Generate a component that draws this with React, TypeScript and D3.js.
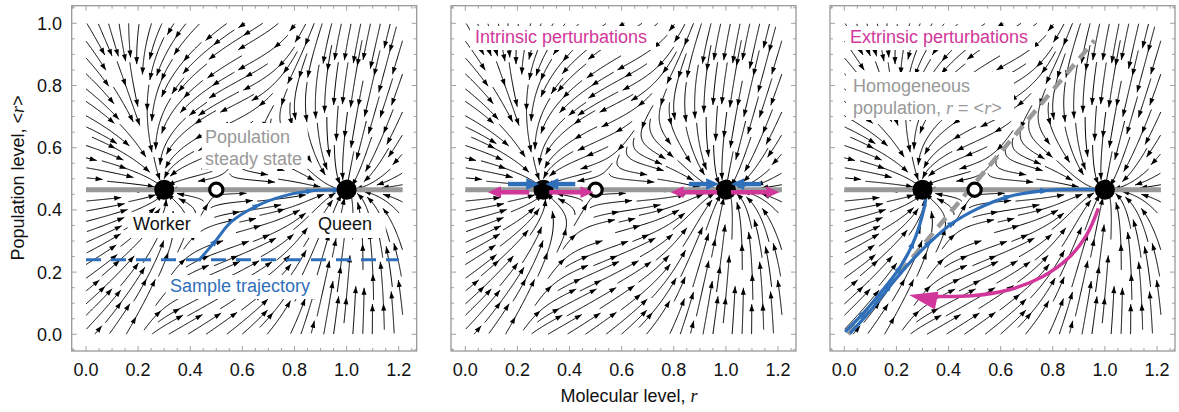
import { useMemo } from 'react';
import * as d3 from 'd3';

type P = [number, number];

// ---- values ----
const popSteady = 0.465;          // population steady state <r>
const workerR = 0.3;
const queenR = 1.0;
const unstableR = 0.5;
const xTicks = [0, 0.2, 0.4, 0.6, 0.8, 1.0, 1.2];
const yTicks = [0, 0.2, 0.4, 0.6, 0.8, 1.0];

const sampleLevel = 0.24;
const sampleTrajectory: P[] = [
  [0.432, 0.237], [0.495, 0.298], [0.558, 0.362], [0.656, 0.413],
  [0.76, 0.445], [0.861, 0.461], [0.962, 0.464], [1.0, 0.465],
];
const sampleArrowAt = [1, 3, 5, 6];

// intrinsic perturbations: [from, to] along r
const pullBack: P[] = [[0.164, 0.284], [0.422, 0.307], [0.858, 0.974], [1.136, 1.02]];
const pushOut: P[] = [[0.245, 0.087], [0.322, 0.492], [0.966, 0.788], [1.02, 1.205]];

const homogeneousLine: P[] = [[0.015, 0.0], [0.96, 0.945]];
const toWorker: P[] = [
  [0.003, 0.008], [0.073, 0.068], [0.142, 0.137], [0.211, 0.212], [0.262, 0.29],
  [0.298, 0.378], [0.312, 0.44], [0.3, 0.465],
];
const toWorkerArrowAt = [1, 3, 4];
const toQueen: P[] = [
  [0.022, 0.003], [0.097, 0.073], [0.173, 0.153], [0.249, 0.228], [0.325, 0.293],
  [0.414, 0.357], [0.514, 0.405], [0.628, 0.442], [0.767, 0.462], [0.918, 0.466], [1.0, 0.465],
];
const toQueenArrowAt = [2, 4, 5, 7, 8];
// extrinsic kick: curve from near the queen back down-left; last point is the arrow tip
const extrinsicPath: P[] = [
  [0.975, 0.405], [0.93, 0.32], [0.86, 0.245], [0.76, 0.185], [0.64, 0.145], [0.49, 0.124], [0.33, 0.122], [0.249, 0.126],
];

// ---- model used for the stream field ----
// r' = a + b r^n / (K^n + r^n) - r, threshold K and basal a shift with <r>
const hillN = 12, hillB = 0.701, baseA = 0.2994, baseK = 0.54;
function field(x: number, y: number): P {
  const a = baseA - 0.25 * (y - popSteady);
  const K = Math.max(0.05, baseK + 0.635 * (y - popSteady));
  const xn = Math.pow(Math.max(x, 0), hillN);
  const H = xn / (Math.pow(K, hillN) + xn);
  const fx = a + hillB * H - x;
  const q = Math.pow(Math.max(x, 0) / 0.84, 14);
  const c = 0.62 - 0.2 * Math.tanh(4 * (y - popSteady));
  const fy = (popSteady - y) * (c + 1.6 * q / (1 + q));
  return [fx, fy];
}

const X_MAX = 1.215;
const SX = 260.6, SY = 311;

function computeStreams(): P[][] {
  const W = X_MAX * SX, H = SY;
  const dsep = 9.5, dtest = 4.2, maxHalf = 34;
  const nc = Math.ceil(W / dsep) + 1, nr = Math.ceil(H / dsep) + 1;
  const buckets: { u: number; v: number; id: number }[][] = Array.from({ length: nc * nr }, () => []);
  const add = (u: number, v: number, id: number) => {
    const i = Math.min(nc - 1, Math.floor(u / dsep)), j = Math.min(nr - 1, Math.floor(v / dsep));
    buckets[j * nc + i].push({ u, v, id });
  };
  const tooClose = (u: number, v: number, d: number, id: number) => {
    const i0 = Math.floor(u / dsep), j0 = Math.floor(v / dsep);
    for (let j = j0 - 1; j <= j0 + 1; j++) for (let i = i0 - 1; i <= i0 + 1; i++) {
      if (i < 0 || j < 0 || i >= nc || j >= nr) continue;
      for (const p of buckets[j * nc + i]) {
        if (p.id !== id && (p.u - u) ** 2 + (p.v - v) ** 2 < d * d) return true;
      }
    }
    return false;
  };
  const dir = (u: number, v: number): P | null => {
    const [fx, fy] = field(u / SX, v / SY);
    const du = fx * SX, dv = fy * SY;
    const m = Math.hypot(du, dv);
    return m < 1e-6 ? null : [du / m, dv / m];
  };
  const trace = (u0: number, v0: number, sgn: number, id: number) => {
    const pts: P[] = [];
    let u = u0, v = v0;
    for (let s = 0; s < maxHalf; s++) {
      const d1 = dir(u, v); if (!d1) break;
      const d2 = dir(u + 0.5 * sgn * d1[0], v + 0.5 * sgn * d1[1]); if (!d2) break;
      if (d1[0] * d2[0] + d1[1] * d2[1] < 0.5) break;
      const un = u + sgn * d2[0], vn = v + sgn * d2[1];
      if (un < 0 || un > W || vn < 0 || vn > H) break;
      if (tooClose(un, vn, dtest, id)) break;
      u = un; v = vn;
      pts.push([u, v]);
    }
    return pts;
  };
  const lines: P[][] = [];
  const tryLine = (u: number, v: number): P[] | null => {
    if (u < 0 || u > W || v < 0 || v > H) return null;
    if (tooClose(u, v, dsep, -1)) return null;
    const id = lines.length;
    const fw = trace(u, v, 1, id);
    const bw = trace(u, v, -1, id);
    const pts: P[] = [...bw.reverse(), [u, v], ...fw];
    if (pts.length < 7) return null;
    pts.forEach((p) => add(p[0], p[1], id));
    lines.push(pts);
    return pts;
  };
  const grow = (first: P[]) => {
    const queue = [first];
    while (queue.length) {
      const ln = queue.shift()!;
      for (let k = 1; k < ln.length - 1; k += 3) {
        const dx = ln[k + 1][0] - ln[k - 1][0], dy = ln[k + 1][1] - ln[k - 1][1];
        const m = Math.hypot(dx, dy) || 1;
        for (const s of [1, -1]) {
          const nl = tryLine(ln[k][0] - (s * dy / m) * dsep, ln[k][1] + (s * dx / m) * dsep);
          if (nl) queue.push(nl);
        }
      }
    }
  };
  for (let v = H - 2; v > 0; v -= dsep / 2) {
    for (let u = 2; u < W; u += dsep / 2) {
      const ln = tryLine(u, v);
      if (ln) grow(ln);
    }
  }
  return lines.map((l) => l.map(([u, v]) => [u / SX, v / SY] as P));
}

function head(tip: P, from: P, len: number, hw: number) {
  const dx = tip[0] - from[0], dy = tip[1] - from[1];
  const m = Math.hypot(dx, dy) || 1;
  const ux = dx / m, uy = dy / m;
  const bx = tip[0] - ux * len, by = tip[1] - uy * len;
  return `M${tip[0]},${tip[1]}L${bx - uy * hw},${by + ux * hw}L${bx + uy * hw},${by - ux * hw}Z`;
}

const FONT = '"Liberation Sans", Arial, Helvetica, sans-serif';
const SERIF = '"Liberation Serif", "Times New Roman", serif';
const BLUE = '#2f6fba';
const MAGENTA = '#d1379a';
const GRAY = '#999999';

function Panel({ left, kind, streams }: { left: number; kind: number; streams: P[][] }) {
  const x0 = left + 14.3;
  const xs = d3.scaleLinear().domain([0, 1]).range([x0, x0 + SX]);
  const ys = d3.scaleLinear().domain([0, 1]).range([334.3, 23.3]);
  const line = d3.line<P>().x((d) => xs(d[0])).y((d) => ys(d[1]));
  const smooth = d3.line<P>().x((d) => xs(d[0])).y((d) => ys(d[1])).curve(d3.curveCatmullRom.alpha(0.5));

  const streamPath = streams.map((l) => line(l)).join('');
  let heads = '';
  streams.forEach((l) => {
    const scr = l.map((p) => [xs(p[0]), ys(p[1])] as P);
    let idx = scr.length - 1;
    while (idx >= 4) {
      heads += head(scr[idx], scr[idx - 4], 7, 2.5);
      idx -= 42;
      if (idx < 18) break;
    }
  });

  const frameL = left, frameR = left + 345, frameT = 5.7, frameB = 351;
  const tickX = d3.range(-1, 26).map((i) => i * 0.05).filter((v) => xs(v) > frameL + 1 && xs(v) < frameR - 1);
  const tickY = d3.range(-1, 22).map((i) => i * 0.05).filter((v) => ys(v) > frameT + 1 && ys(v) < frameB - 1);
  const isMajor = (v: number) => Math.abs(v / 0.2 - Math.round(v / 0.2)) < 1e-6;

  const trajHeads = (pts: P[], at: number[], len: number, hw: number) =>
    at.map((i) => {
      const a = pts[Math.max(0, i - 1)], b = pts[Math.min(pts.length - 1, i + 1)];
      const tip: P = [xs(pts[i][0]), ys(pts[i][1])];
      const dx = xs(b[0]) - xs(a[0]), dy = ys(b[1]) - ys(a[1]);
      const m = Math.hypot(dx, dy) || 1;
      return head([tip[0] + (dx / m) * len * 0.5, tip[1] + (dy / m) * len * 0.5], [tip[0] - dx, tip[1] - dy], len, hw);
    }).join('');

  const bigArrow = (from: number, to: number, y: number, color: string) => {
    const a: P = [xs(from), ys(y)], b: P = [xs(to), ys(y)];
    const dir = Math.sign(b[0] - a[0]);
    return (
      <g>
        <line x1={a[0]} y1={a[1]} x2={b[0] - dir * 10} y2={b[1]} stroke={color} strokeWidth={4.5} />
        <path d={head(b, a, 13, 5.8)} fill={color} />
      </g>
    );
  };

  const shaft = extrinsicPath.slice(0, -1);
  const tipE: P = [xs(extrinsicPath[extrinsicPath.length - 1][0]), ys(extrinsicPath[extrinsicPath.length - 1][1])];
  const baseE: P = [xs(shaft[shaft.length - 1][0]), ys(shaft[shaft.length - 1][1])];

  return (
    <g>
      {/* frame */}
      <rect x={frameL} y={frameT} width={frameR - frameL} height={frameB - frameT} fill="white" stroke={GRAY} strokeWidth={1.3} />
      {tickX.map((v, i) => (
        <g key={'tx' + i} stroke={GRAY} strokeWidth={0.9}>
          <line x1={xs(v)} x2={xs(v)} y1={frameB} y2={frameB - (isMajor(v) ? 5 : 3)} />
          <line x1={xs(v)} x2={xs(v)} y1={frameT} y2={frameT + (isMajor(v) ? 5 : 3)} />
        </g>
      ))}
      {tickY.map((v, i) => (
        <g key={'ty' + i} stroke={GRAY} strokeWidth={0.9}>
          <line y1={ys(v)} y2={ys(v)} x1={frameL} x2={frameL + (isMajor(v) ? 5 : 3)} />
          <line y1={ys(v)} y2={ys(v)} x1={frameR} x2={frameR - (isMajor(v) ? 5 : 3)} />
        </g>
      ))}
      {xTicks.map((v) => (
        <text key={'xl' + v} x={xs(v)} y={376} textAnchor="middle" fontFamily={FONT} fontSize={18} fill="#111">
          {v.toFixed(1)}
        </text>
      ))}

      {/* stream field */}
      <path d={streamPath} fill="none" stroke="#000" strokeWidth={1} />
      <path d={heads} fill="#000" />

      {kind === 0 && (
        <g fontFamily={FONT} fontSize={18}>
          <rect x={left + 130} y={123} width={106} height={46} fill="white" />
          <text x={left + 133.3} y={142.5} fill={GRAY}>Population</text>
          <text x={left + 133.3} y={165} fill={GRAY}>steady state</text>
          <rect x={left + 56} y={213} width={73} height={25} fill="white" />
          <text x={left + 61.3} y={230} fill="#111">Worker</text>
          <rect x={left + 237} y={213} width={77} height={25} fill="white" />
          <text x={left + 246.3} y={230} fill="#111">Queen</text>
          <rect x={left + 94} y={275} width={152} height={24} fill="white" />
          <text x={left + 98.3} y={292} fill={BLUE}>Sample trajectory</text>
        </g>
      )}
      {kind === 1 && (
        <g fontFamily={FONT} fontSize={18}>
          <rect x={left + 19} y={26} width={186} height={24} fill="white" />
          <text x={left + 24} y={43} fill={MAGENTA}>Intrinsic perturbations</text>
        </g>
      )}
      {kind === 2 && (
        <g fontFamily={FONT} fontSize={18}>
          <rect x={left + 15} y={26} width={190} height={24} fill="white" />
          <text x={left + 20} y={43} fill={MAGENTA}>Extrinsic perturbations</text>
          <rect x={left + 16} y={72} width={168} height={48} fill="white" />
          <text x={left + 23} y={91.5} fill={GRAY}>Homogeneous</text>
          <text x={left + 23} y={114} fill={GRAY}>
            population, <tspan fontFamily={SERIF} fontStyle="italic">r</tspan> = &lt;<tspan fontFamily={SERIF} fontStyle="italic">r</tspan>&gt;
          </text>
        </g>
      )}

      {/* population steady state */}
      <line x1={xs(0)} x2={xs(X_MAX)} y1={ys(popSteady)} y2={ys(popSteady)} stroke={GRAY} strokeWidth={5} />

      {kind === 0 && (
        <g>
          <line x1={xs(0)} x2={xs(1.2)} y1={ys(sampleLevel)} y2={ys(sampleLevel)} stroke={BLUE} strokeWidth={3} strokeDasharray="15 10" />
          <path d={smooth(sampleTrajectory) ?? ''} fill="none" stroke={BLUE} strokeWidth={3} />
          <path d={trajHeads(sampleTrajectory, sampleArrowAt, 8, 3.2)} fill={BLUE} />
        </g>
      )}
      {kind === 2 && (
        <g>
          <path d={line(homogeneousLine) ?? ''} fill="none" stroke={GRAY} strokeWidth={4.5} strokeDasharray="12 8" />
          <path d={smooth(toWorker) ?? ''} fill="none" stroke={BLUE} strokeWidth={3.2} />
          <path d={smooth(toQueen) ?? ''} fill="none" stroke={BLUE} strokeWidth={3.2} />
          <path d={trajHeads(toWorker, toWorkerArrowAt, 8, 3.2) + trajHeads(toQueen, toQueenArrowAt, 8, 3.2)} fill={BLUE} />
        </g>
      )}

      {[workerR, queenR].map((r) => (
        <circle key={'s' + r} cx={xs(r)} cy={ys(popSteady)} r={10} fill="#000" />
      ))}
      <circle cx={xs(unstableR)} cy={ys(popSteady)} r={6.6} fill="white" stroke="#000" strokeWidth={3.2} />

      {kind === 1 && (
        <g>
          {pullBack.map((d, i) => <g key={'b' + i}>{bigArrow(d[0], d[1], popSteady + 0.018, BLUE)}</g>)}
          {pushOut.map((d, i) => <g key={'m' + i}>{bigArrow(d[0], d[1], popSteady - 0.008, MAGENTA)}</g>)}
        </g>
      )}
      {kind === 2 && (
        <g>
          <path d={smooth(shaft) ?? ''} fill="none" stroke={MAGENTA} strokeWidth={3.5} />
          <path d={head(tipE, [baseE[0], baseE[1] + 3], 28, 9)} fill={MAGENTA} />
        </g>
      )}
    </g>
  );
}

export default function App() {
  const streams = useMemo(() => computeStreams(), []);
  const ys = d3.scaleLinear().domain([0, 1]).range([334.3, 23.3]);
  const lefts = [71.7, 451, 830];
  return (
    <svg width={1179} height={412} style={{ position: 'absolute', left: 0, top: 0, background: 'white' }}>
      {lefts.map((l, i) => (
        <Panel key={i} left={l} kind={i} streams={streams} />
      ))}
      {yTicks.map((v) => (
        <text key={'yl' + v} x={62} y={ys(v) + 6.5} textAnchor="end" fontFamily={FONT} fontSize={18} fill="#111">
          {v.toFixed(1)}
        </text>
      ))}
      <text transform="translate(24,178) rotate(-90)" textAnchor="middle" fontFamily={FONT} fontSize={18} fill="#111">
        Population level, &lt;<tspan fontFamily={SERIF} fontStyle="italic">r</tspan>&gt;
      </text>
      <text x={629} y={402} textAnchor="middle" fontFamily={FONT} fontSize={18} fill="#111">
        Molecular level, <tspan fontFamily={SERIF} fontStyle="italic">r</tspan>
      </text>
    </svg>
  );
}
